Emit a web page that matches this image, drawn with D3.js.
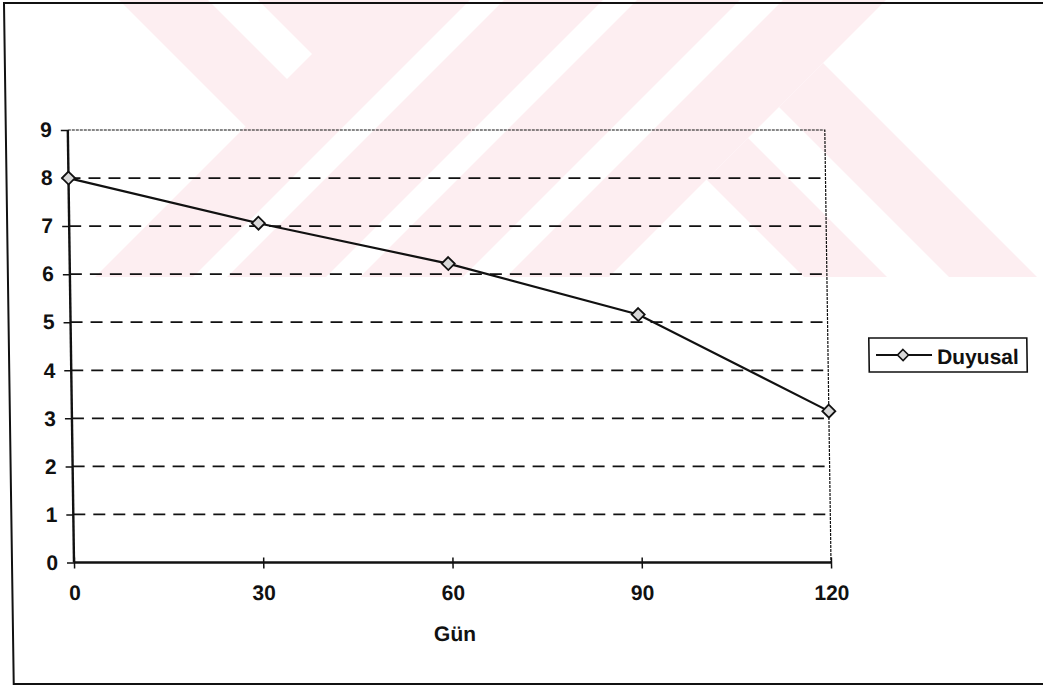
<!DOCTYPE html>
<html>
<head>
<meta charset="utf-8">
<script src="https://cdn.jsdelivr.net/npm/d3@7"></script>
<style>
  html, body { margin: 0; padding: 0; background: #fff; }
  svg { display: block; }
  text { font-family: "Liberation Sans", Arial, sans-serif; font-weight: bold; fill: #111; }
</style>
</head>
<body>
<svg id="chart" width="1043" height="686"></svg>
<script>
// ---- data ----
const days = [0, 30, 60, 90, 120];
const duyusal = [8.0, 7.06, 6.22, 5.16, 3.15];
const yTicks = [0, 1, 2, 3, 4, 5, 6, 7, 8, 9];
const gridValues = [1, 2, 3, 4, 5, 6, 7, 8];
const seriesName = "Duyusal";
const xTitle = "Gün";

const W = 1043, H = 686;
const svg = d3.select("#chart");

// ---- background watermark (pale pink diagonal bands) ----
const pink = "#fdeef1";
const wm = svg.append("g");
svg.append("clipPath").attr("id", "wmclip").append("rect")
  .attr("x", 0).attr("y", 0).attr("width", W).attr("height", 277);
wm.attr("clip-path", "url(#wmclip)");
wm.append("rect").attr("x", 0).attr("y", 0).attr("width", W).attr("height", 277).attr("fill", pink);
const whitePolys = [
  [[0,0],[119,0],[245.5,126.5],[95,277],[0,277]],
  [[208,0],[258,0],[312,54],[287,79]],
  [[470,0],[504,0],[227,277],[193,277]],
  [[603,0],[637,0],[360,277],[326,277]],
  [[740,0],[783,0],[506,277],[463,277]],
  [[886,0],[W,0],[W,277],[609,277]]
];
const pinkPolys = [
  [[748,138],[887,277],[804,277],[706.5,179.5]],
  [[823,63],[1037,277],[949,277],[779,107]]
];
whitePolys.forEach(p => wm.append("polygon").attr("points", p.join(" ")).attr("fill", "#fff"));
pinkPolys.forEach(p => wm.append("polygon").attr("points", p.join(" ")).attr("fill", pink));

// ---- chart group (scan is slightly skewed) ----
const k = 0.0143;
const g = svg.append("g")
  .attr("transform", `translate(${-k * 563},0) skewX(${Math.atan(k) * 180 / Math.PI})`);

// outer frame
g.append("rect").attr("x", 12).attr("y", 3).attr("width", 1100).attr("height", 681)
  .attr("fill", "none").attr("stroke", "#111").attr("stroke-width", 2);

const x = d3.scaleLinear().domain([0, 120]).range([74, 831]);
const y = d3.scaleLinear().domain([0, 9]).range([562.5, 130]);

// gridlines
g.append("g").selectAll("line").data(gridValues).join("line")
  .attr("x1", x(0)).attr("x2", x(120))
  .attr("y1", d => y(d)).attr("y2", d => y(d))
  .attr("stroke", "#111").attr("stroke-width", 1.7).attr("stroke-dasharray", "12,8");

// plot area border (top & right)
g.append("path")
  .attr("d", `M${x(0)},${y(9)} H${x(120)} V${y(0)}`)
  .attr("fill", "none").attr("stroke", "#111").attr("stroke-width", 1.2)
  .attr("stroke-dasharray", "3,1");

// y axis
const yAxis = g.append("g").attr("transform", `translate(${x(0)},0)`)
  .call(d3.axisLeft(y).tickValues(yTicks).tickSize(7).tickPadding(9).tickFormat(d3.format("d")));
yAxis.select(".domain").attr("stroke", "#111").attr("stroke-width", 2.4).attr("d", `M0,${y(9)}V${y(0)}`);
yAxis.selectAll(".tick line").attr("stroke", "#111").attr("stroke-width", 1.5);
yAxis.selectAll("text").attr("font-size", 21).attr("font-family", null).attr("fill", "#111");

// x axis
const xAxis = g.append("g").attr("transform", `translate(0,${y(0)})`)
  .call(d3.axisBottom(x).tickValues(days).tickSize(6).tickPadding(16.5).tickFormat(d3.format("d")));
xAxis.select(".domain").attr("stroke", "#111").attr("stroke-width", 2.4).attr("d", `M${x(0)},0H${x(120)}`);
xAxis.selectAll(".tick line").attr("y1", -5).attr("stroke", "#111").attr("stroke-width", 1.5);
xAxis.selectAll("text").attr("font-size", 21).attr("font-family", null).attr("fill", "#111");

// axis title
g.append("text").attr("x", 454).attr("y", 641).attr("text-anchor", "middle")
  .attr("font-size", 21).text(xTitle);

// series line
const pts = days.map((d, i) => [d, duyusal[i]]);
g.append("path").datum(pts)
  .attr("d", d3.line().x(d => x(d[0])).y(d => y(d[1])))
  .attr("fill", "none").attr("stroke", "#111").attr("stroke-width", 2.2);

const diamond = r => `M0,${-r}L${r},0L0,${r}L${-r},0Z`;
g.append("g").selectAll("path").data(pts).join("path")
  .attr("transform", d => `translate(${x(d[0])},${y(d[1])})`)
  .attr("d", diamond(6.5))
  .attr("fill", "#d8d8d8").attr("stroke", "#111").attr("stroke-width", 1.8);

// legend
const lg = g.append("g");
lg.append("rect").attr("x", 872).attr("y", 338).attr("width", 158).attr("height", 34)
  .attr("fill", "#fff").attr("stroke", "#111").attr("stroke-width", 1.6);
lg.append("line").attr("x1", 879).attr("x2", 935).attr("y1", 355).attr("y2", 355)
  .attr("stroke", "#111").attr("stroke-width", 2);
lg.append("path").attr("transform", "translate(906,355)").attr("d", diamond(5.5))
  .attr("fill", "#d8d8d8").attr("stroke", "#111").attr("stroke-width", 1.6);
lg.append("text").attr("x", 940).attr("y", 364).attr("font-size", 21).text(seriesName);
</script>
</body>
</html>
